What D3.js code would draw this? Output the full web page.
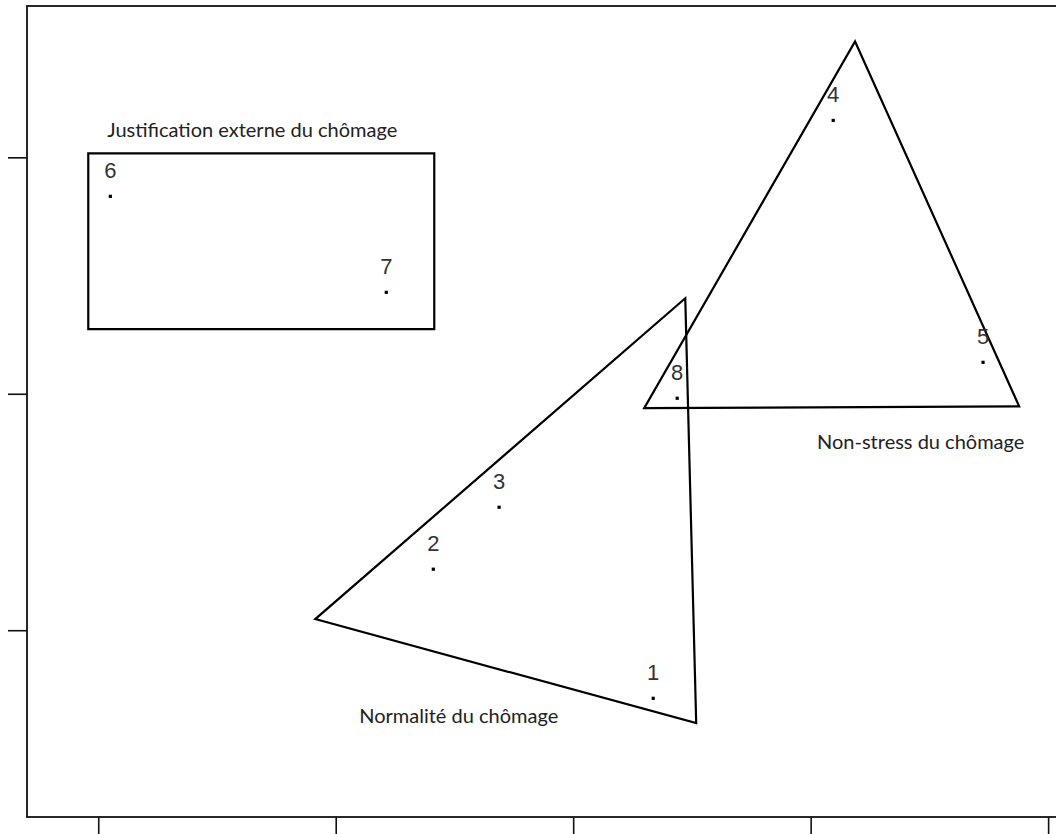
<!DOCTYPE html>
<html>
<head>
<meta charset="utf-8">
<script src="https://cdn.jsdelivr.net/npm/d3@7"></script>
<style>
  body { margin: 0; background: #fff; }
  svg { display: block; }
</style>
</head>
<body>
<script>
// points of the map (item number, x, y in plot units)
var pointIds = [1, 2, 3, 4, 5, 6, 7, 8];
var pointX = [2.337, 1.411, 1.688, 3.095, 3.726, 0.051, 1.213, 2.438];
var pointY = [-0.288, 0.258, 0.520, 2.156, 1.133, 1.835, 1.429, 0.981];

// groups drawn round the points
var groupNames = ['Justification externe du chômage', 'Non-stress du chômage', 'Normalité du chômage'];
var groupShapes = [
  [[-0.042, 2.017], [1.415, 2.017], [1.415, 1.273], [-0.042, 1.273]],
  [[3.187, 2.490], [3.878, 0.947], [2.299, 0.939]],
  [[2.472, 1.404], [0.914, 0.047], [2.518, -0.393]]
];
// where each group name starts (left end of baseline)
var groupLabelAt = [[0.038, 2.085], [3.027, 0.768], [1.099, -0.393]];

var xTicks = [0, 1, 2, 3, 4];
var yTicks = [0, 1, 2];

var width = 1056;
var height = 834;

var svg = d3.select('body').append('svg')
  .attr('width', width)
  .attr('height', height);

var x = d3.scaleLinear().domain([-0.3, 4.05]).range([27, 1060]);
var y = d3.scaleLinear().domain([-0.79, 2.64]).range([817, 6]);

// axes, ticks only
svg.append('g')
  .attr('transform', 'translate(' + x(-0.3) + ',0)')
  .call(d3.axisLeft(y).tickValues(yTicks).tickFormat('').tickSize(19).tickSizeOuter(0))
  .call(function(g) { g.select('.domain').remove(); })
  .selectAll('line').attr('stroke', '#111').attr('stroke-width', 1.6);

svg.append('g')
  .attr('transform', 'translate(0,' + y(-0.79) + ')')
  .call(d3.axisBottom(x).tickValues(xTicks).tickFormat('').tickSize(19).tickSizeOuter(0))
  .call(function(g) { g.select('.domain').remove(); })
  .selectAll('line').attr('stroke', '#111').attr('stroke-width', 1.6);

// plot frame
svg.append('rect')
  .attr('x', x(-0.3))
  .attr('y', y(2.64))
  .attr('width', x(4.05) - x(-0.3))
  .attr('height', y(-0.79) - y(2.64))
  .attr('fill', 'none')
  .attr('stroke', '#111')
  .attr('stroke-width', 1.8);

var line = d3.line()
  .x(function(d) { return x(d[0]); })
  .y(function(d) { return y(d[1]); })
  .curve(d3.curveLinearClosed);

svg.selectAll('path.group')
  .data(groupShapes)
  .enter().append('path')
  .attr('class', 'group')
  .attr('d', line)
  .attr('fill', 'none')
  .attr('stroke', '#000')
  .attr('stroke-width', 2.2)
  .attr('stroke-linejoin', 'miter');

svg.selectAll('text.group')
  .data(groupNames)
  .enter().append('text')
  .attr('class', 'group')
  .attr('x', function(d, i) { return x(groupLabelAt[i][0]); })
  .attr('y', function(d, i) { return y(groupLabelAt[i][1]); })
  .attr('font-family', 'Lato, "Open Sans", sans-serif')
  .attr('font-size', 20)
  .attr('fill', '#222')
  .text(function(d) { return d; });

var points = pointIds.map(function(id, i) {
  return {id: id, x: pointX[i], y: pointY[i]};
});

svg.selectAll('rect.pt')
  .data(points)
  .enter().append('rect')
  .attr('class', 'pt')
  .attr('x', function(d) { return x(d.x) - 1.6; })
  .attr('y', function(d) { return y(d.y) - 1.6; })
  .attr('width', 3.2)
  .attr('height', 3.2)
  .attr('fill', '#000');

svg.selectAll('text.pt')
  .data(points)
  .enter().append('text')
  .attr('class', 'pt')
  .attr('x', function(d) { return x(d.x); })
  .attr('y', function(d) { return y(d.y) - 18; })
  .attr('text-anchor', 'middle')
  .attr('font-family', '"Liberation Sans", Arial, sans-serif')
  .attr('font-size', 22)
  .attr('fill', '#333')
  .text(function(d) { return d.id; });
</script>
</body>
</html>
